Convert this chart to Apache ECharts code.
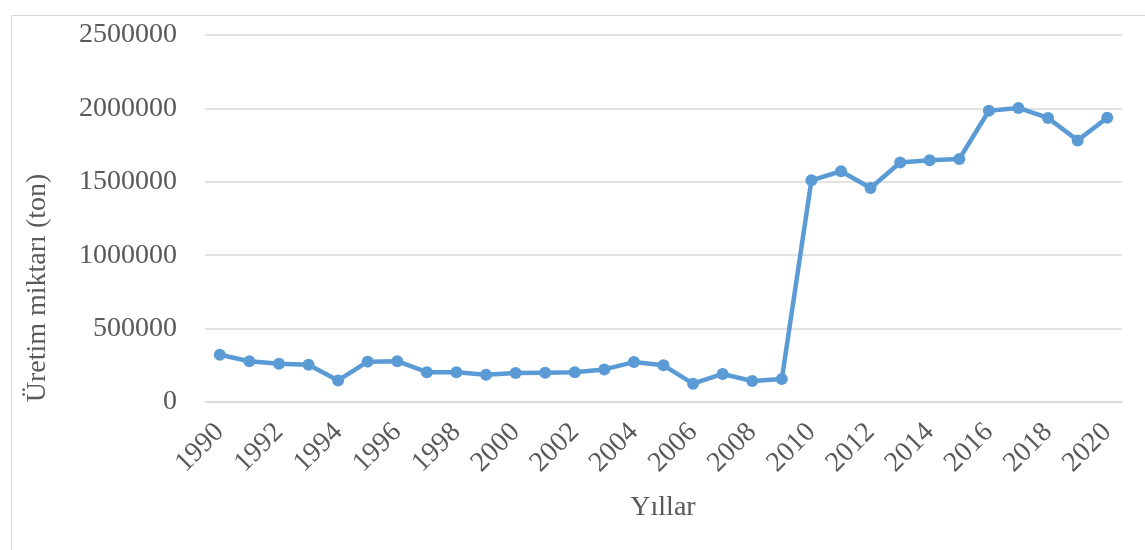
<!DOCTYPE html>
<html>
<head>
<meta charset="utf-8">
<script src="https://cdn.jsdelivr.net/npm/echarts@6/dist/echarts.min.js"></script>
<style>
html,body{margin:0;padding:0;background:#fff;}
#c{width:1145px;height:550px;}
</style>
</head>
<body>
<div id="c"></div>
<script>
const years = ['1990','1991','1992','1993','1994','1995','1996','1997','1998','1999','2000','2001','2002','2003','2004','2005','2006','2007','2008','2009','2010','2011','2012','2013','2014','2015','2016','2017','2018','2019','2020'];
const production = [322000,278000,260000,253000,147000,275000,278000,203000,203000,185000,197000,200000,203000,222000,272000,250000,125000,191000,143000,156000,1510000,1572000,1458000,1632000,1646000,1655000,1984000,2003000,1935000,1782000,1936000];
const yTicks = {min:0, max:2500000, interval:500000};
const yTitle = 'Üretim miktarı (ton)';
const xTitle = 'Yıllar';

const font = '"Liberation Serif","Times New Roman",serif';
const txt = '#595959';
const chart = echarts.init(document.getElementById('c'));
chart.setOption({
  animation:false,
  backgroundColor:'#fff',
  grid:{left:205, right:23, top:35, bottom:148},
  xAxis:{
    type:'category', data:years, boundaryGap:true,
    axisLine:{show:true, lineStyle:{color:'#d9d9d9', width:1.5}},
    axisTick:{show:false},
    axisLabel:{interval:1, rotate:45, color:txt, fontFamily:font, fontSize:28, margin:26}
  },
  yAxis:{
    type:'value', min:yTicks.min, max:yTicks.max, interval:yTicks.interval,
    axisLine:{show:false}, axisTick:{show:false},
    splitLine:{lineStyle:{color:'#d9d9d9', width:1.5}},
    axisLabel:{color:txt, fontFamily:font, fontSize:28, margin:28, formatter:function(v){return String(v);}}
  },
  graphic:[
    {type:'rect', left:9, top:13, shape:{width:1160, height:535}, style:{fill:'none', stroke:'#d9d9d9', lineWidth:1}, silent:true},
    {type:'text', x:38, y:288, rotation:Math.PI/2, style:{text:yTitle, fill:txt, font:'28px '+font, align:'center', verticalAlign:'middle'}},
    {type:'text', x:663, y:508, style:{text:xTitle, fill:txt, font:'28px '+font, align:'center', verticalAlign:'middle'}}
  ],
  series:[{
    type:'line', data:production,
    symbol:'circle', symbolSize:12,
    lineStyle:{color:'#5b9bd5', width:4.5},
    itemStyle:{color:'#5b9bd5'}
  }]
});
</script>
</body>
</html>
